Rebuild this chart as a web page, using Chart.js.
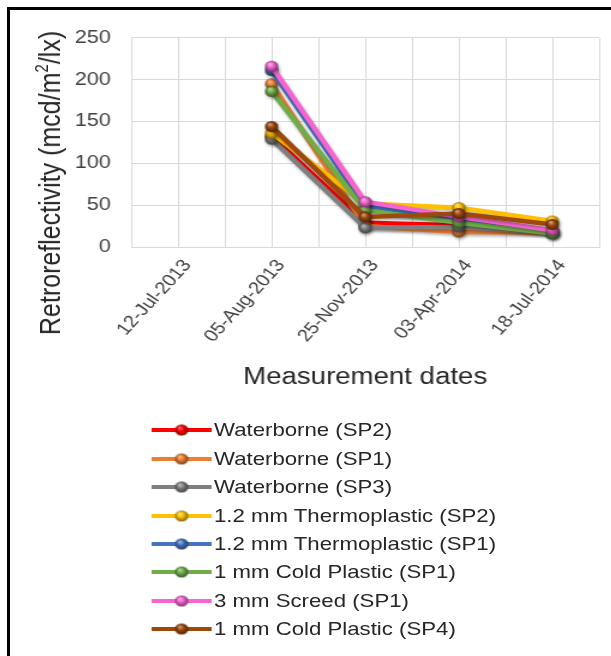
<!DOCTYPE html>
<html><head><meta charset="utf-8">
<script src="https://cdn.jsdelivr.net/npm/chart.js@4.4.1/dist/chart.umd.min.js"></script>
<style>
html,body{margin:0;padding:0;background:#fff;overflow:hidden;}
body{width:611px;height:656px;position:relative;font-family:"Liberation Sans",Arial,sans-serif;}
#frame{position:absolute;left:7px;top:7px;width:604px;height:649px;border-left:3px solid #000;border-top:3px solid #000;box-sizing:border-box;}
#stretch{position:absolute;left:0;top:0;width:501px;height:646px;transform:scaleX(1.2);transform-origin:0 0;}
#chart{position:absolute;left:0;top:0;}
#ytitle{position:absolute;left:32.5px;top:172.5px;transform:translate(-50%,-50%) rotate(-90deg);white-space:nowrap;font-size:25px;color:#262626;line-height:1;}
#ytitle sup{font-size:15px;vertical-align:top;position:relative;top:-2px;}
#legend{position:absolute;left:118px;top:406px;}
.row{display:flex;align-items:center;height:28.45px;font-size:18.5px;color:#262626;white-space:nowrap;}
.row canvas{display:block;margin-right:2px;}
</style>
</head><body>
<div id="frame"><div id="stretch">
<canvas id="chart" width="501" height="390"></canvas>
<div id="ytitle">Retroreflectivity (mcd/m<sup>2</sup>/lx)</div>
<div id="legend"></div>
</div></div>
<script>
// ---- data ----
const categories = ['12-Jul-2013','05-Aug-2013','25-Nov-2013','03-Apr-2014','18-Jul-2014'];
const yTicks = [0, 50, 100, 150, 200, 250];
const seriesNames = ['Waterborne (SP2)','Waterborne (SP1)','Waterborne (SP3)','1.2 mm Thermoplastic (SP2)','1.2 mm Thermoplastic (SP1)','1 mm Cold Plastic (SP1)','3 mm Screed (SP1)','1 mm Cold Plastic (SP4)'];
const waterborneSP2    = [null, 132, 29, 26, 18];
const waterborneSP1    = [null, 195, 25, 18, 17];
const waterborneSP3    = [null, 129, 23, 24, 17];
const thermo12SP2      = [null, 136, 52, 47, 31];
const thermo12SP1      = [null, 211, 49, 33, 19];
const coldPlastic1SP1  = [null, 186, 44, 29, 16];
const screed3SP1       = [null, 216, 54, 36, 20];
const coldPlastic1SP4  = [null, 144, 36, 40, 27];
const seriesValues = [waterborneSP2, waterborneSP1, waterborneSP3, thermo12SP2, thermo12SP1, coldPlastic1SP1, screed3SP1, coldPlastic1SP4];
// ---- styles ----
const colors = ['#FF0000','#ED7D31','#7F7F7F','#FFC000','#4472C4','#70AD47','#F564D0','#9E480E'];

function hexRgb(h){h=h.replace('#','');return [parseInt(h.slice(0,2),16),parseInt(h.slice(2,4),16),parseInt(h.slice(4,6),16)];}
function mix(h,t,a){const c=hexRgb(h);return 'rgb('+c.map(v=>Math.round(v+(t-v)*a)).join(',')+')';}
function sphere(color, r){
  const c=document.createElement('canvas');
  const s=Math.ceil(r*2)+2; c.width=s; c.height=s;
  const g=c.getContext('2d'); const cx=s/2, cy=s/2;
  const gr=g.createRadialGradient(cx-r*0.3,cy-r*0.45,r*0.05,cx,cy,r);
  gr.addColorStop(0,mix(color,255,0.55));
  gr.addColorStop(0.45,color);
  gr.addColorStop(1,mix(color,0,0.5));
  g.fillStyle=gr; g.beginPath(); g.arc(cx,cy,r,0,Math.PI*2); g.fill();
  return c;
}
const R = 5.5;
const spheres = colors.map(c=>sphere(c,R));

const shadowPlugin = {
  id:'shadow',
  beforeDatasetsDraw(chart){const ctx=chart.ctx;ctx.save();ctx.shadowColor='rgba(0,0,0,0.3)';ctx.shadowBlur=3;ctx.shadowOffsetX=1;ctx.shadowOffsetY=2;},
  afterDatasetsDraw(chart){chart.ctx.restore();}
};

const N = seriesValues.length;
const datasets = seriesValues.map((vals,i)=>({
  label: seriesNames[i],
  data: vals.map((v,j)=>({x:j, y:v})),
  borderColor: colors[i],
  backgroundColor: colors[i],
  borderWidth: 4.5,
  pointStyle: spheres[i],
  pointRadius: R,
  tension: 0,
  order: N - i
}));

new Chart(document.getElementById('chart'), {
  type: 'line',
  data: { datasets },
  plugins: [shadowPlugin],
  options: {
    responsive: false,
    animation: false,
    layout: { padding: { top: 25, right: 7, left: 0, bottom: 0 } },
    plugins: { legend: { display: false }, tooltip: { enabled: false } },
    scales: {
      x: {
        type: 'linear', min: -0.5, max: 4.5,
        grid: { color: '#D9D9D9', lineWidth: 1, drawTicks: false },
        border: { color: '#D9D9D9' },
        ticks: {
          stepSize: 0.5, autoSkip: false, minRotation: 52, maxRotation: 52, padding: 9, labelOffset: 8,
          font: { family: '"Liberation Sans", Arial, sans-serif', size: 17 }, color: '#404040',
          callback: (v) => Number.isInteger(v) && categories[v] ? categories[v] : ''
        },
        title: { display: true, text: 'Measurement dates', color: '#262626',
          font: { family: '"Liberation Sans", Arial, sans-serif', size: 23 }, padding: { top: 0, bottom: 9 } },
        afterFit: (s) => { s.height = 153; s.paddingLeft = 0; s.paddingRight = 0; }
      },
      y: {
        min: 0, max: 250,
        grid: { color: '#D9D9D9', lineWidth: 1, drawTicks: false },
        border: { color: '#D9D9D9' },
        ticks: { stepSize: 50, padding: 17, color: '#404040',
          font: { family: '"Liberation Sans", Arial, sans-serif', size: 18 },
          callback: (v) => yTicks.includes(v) ? String(v) : '' },
        afterFit: (s) => { s.width = 101; }
      }
    }
  }
});

// HTML legend
const legend = document.getElementById('legend');
seriesNames.forEach((name,i)=>{
  const row=document.createElement('div'); row.className='row';
  const cv=document.createElement('canvas'); cv.width=50; cv.height=14;
  const g=cv.getContext('2d');
  g.strokeStyle=colors[i]; g.lineWidth=4; g.beginPath(); g.moveTo(0,7); g.lineTo(50,7); g.stroke();
  g.drawImage(spheres[i], 25-spheres[i].width/2, 7-spheres[i].height/2);
  const sp=document.createElement('span'); sp.textContent=name;
  row.appendChild(cv); row.appendChild(sp); legend.appendChild(row);
});
</script>
</body></html>
